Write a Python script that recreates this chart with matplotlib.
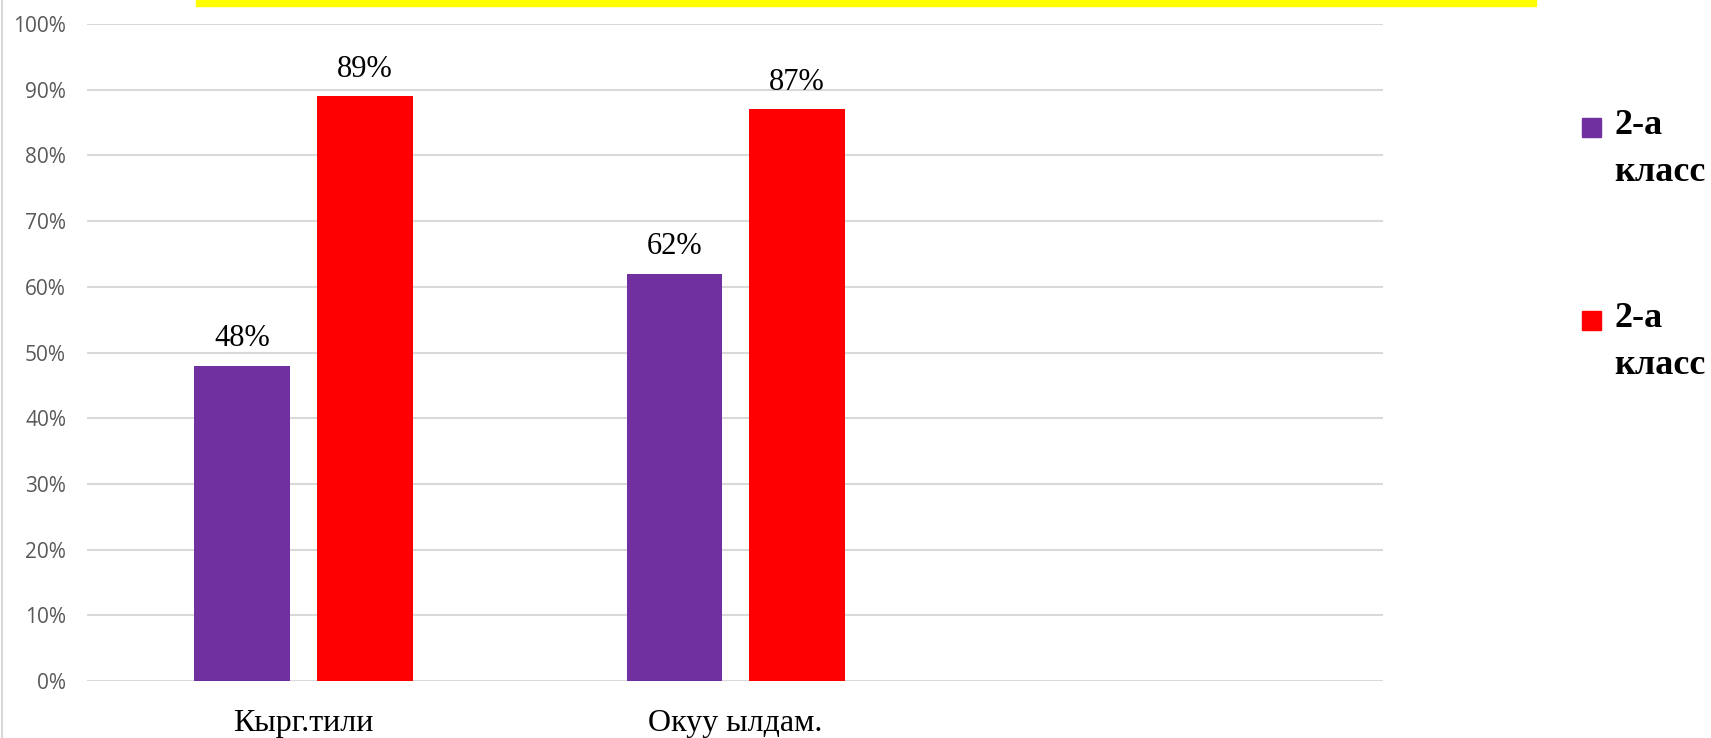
import numpy as np
import matplotlib
matplotlib.use('Agg')
import matplotlib.pyplot as plt
from matplotlib.patches import Rectangle
from matplotlib.lines import Line2D
from matplotlib.ticker import PercentFormatter

# data
categories = ['Кырг.тили', 'Окуу ылдам.', '']
series_names = ['2-а\nкласс', '2-а\nкласс']
series_a = [0.48, 0.62, np.nan]
series_b = [0.89, 0.87, np.nan]
colors = ['#7030A0', '#FF0000']
yticks = np.arange(0, 1.01, 0.1)

fig = plt.figure(figsize=(17.11, 7.38), dpi=100)
ax = fig.add_axes([0.0508, 0.0772, 0.7575, 0.8903])

x = np.arange(len(categories))
w = 0.222
off = 0.14
b1 = ax.bar(x - off, series_a, w, color=colors[0], zorder=2)
b2 = ax.bar(x + off + 0.003, series_b, w, color=colors[1], zorder=2)

for bars, vals in [(b1, series_a), (b2, series_b)]:
    labels = ['' if np.isnan(v) else '%d%%' % round(v * 100) for v in vals]
    ax.bar_label(bars, labels=labels, padding=9, fontsize=22,
                 family='Liberation Serif', color='black')

ax.set_xlim(-0.5, len(categories) - 0.5)
ax.set_ylim(0, 1.0)
ax.set_yticks(yticks)
ax.yaxis.set_major_formatter(PercentFormatter(1.0, decimals=0))
ax.set_xticks(x)
ax.set_xticklabels(categories, family='Liberation Serif', fontsize=23)
ax.tick_params(axis='y', length=0, pad=15, labelsize=15, labelcolor='#595959')
ax.tick_params(axis='x', length=0, pad=20)
for lab in ax.get_yticklabels():
    lab.set_family('Open Sans')
ax.grid(axis='y', color='#d9d9d9', linewidth=1.5, zorder=0)
ax.set_axisbelow(True)
for s in ax.spines.values():
    s.set_visible(False)

# legend drawn by hand so the square sits on the first line
lx, ly = 1582 / 1711, 1 - 137 / 738
step = 193 / 738
for i, (name, c) in enumerate(zip(series_names, colors)):
    y0 = ly - i * step
    fig.add_artist(Rectangle((lx, y0), 19 / 1711, 19 / 738, color=c,
                             transform=fig.transFigure))
    fig.text(lx + 32 / 1711, y0 + 28 / 738, name, family='Liberation Serif',
             fontweight='bold', fontsize=26, va='top', ha='left',
             linespacing=1.55)

# yellow strip at top and frame line on the left
fig.add_artist(Rectangle((196 / 1711, 1 - 6 / 738), (1536 - 196) / 1711, 6 / 738,
                         color='#FFFF00', transform=fig.transFigure))
fig.add_artist(Line2D([2 / 1711, 2 / 1711], [0, 1], color='#d9d9d9',
                      linewidth=1.5, transform=fig.transFigure))

fig.savefig('out.png', dpi=100)
